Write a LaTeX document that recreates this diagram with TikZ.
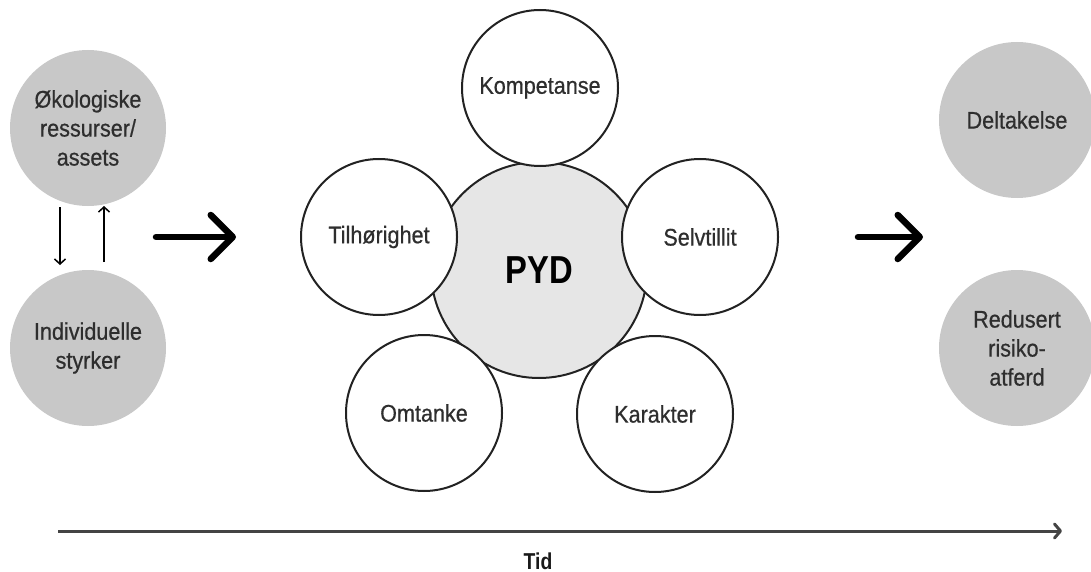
\documentclass[tikz,border=0pt]{standalone}
\usepackage{fontspec}
\setmainfont{Liberation Sans}[FakeStretch=0.9,FakeBold=0.6]
\newfontfamily\narrowbold{Liberation Sans Bold}[FakeStretch=0.84]
\usetikzlibrary{arrows.meta}
\definecolor{greyc}{HTML}{C8C8C8}
\definecolor{pydc}{HTML}{E6E6E6}
\definecolor{txtc}{HTML}{2E2E2E}
\definecolor{linec}{HTML}{222222}
\definecolor{timec}{HTML}{444444}
\begin{document}
\begin{tikzpicture}[x=1pt,y=-1pt,
  lbl/.style={font=\fontsize{24}{29}\selectfont,text=txtc,align=center},
  greycircle/.style={lbl,circle,fill=greyc,minimum size=156pt,inner sep=0pt},
  ring/.style={lbl,circle,draw=linec,line width=2pt,fill=white,minimum size=156pt,inner sep=0pt},
  core/.style={circle,draw=linec,line width=2pt,fill=pydc,minimum size=216pt,inner sep=0pt,
    font=\narrowbold\fontsize{39}{40}\selectfont,text=black},
  bigarrow/.style={line width=6.5pt,line cap=round,-{Straight Barb[length=22pt,width=44pt,round]}},
  thinarrow/.style={line width=1.5pt,-{Straight Barb[length=5pt,width=11pt]}},
  timearrow/.style={line width=3pt,draw=timec,-{Straight Barb[length=6pt,width=14pt,round]}}]
\useasboundingbox (0,0) rectangle (1091,572);

% left
\node[greycircle] (eco) at (88,128) {Økologiske\\ressurser/\\assets};
\node[greycircle] (ind) at (88,348) {Individuelle\\styrker};
\coordinate (d0) at (60,207);
\coordinate (d1) at (60,265);
\coordinate (u0) at (104,262);
\coordinate (u1) at (104,206);
\draw[thinarrow] (d0) -- (d1);
\draw[thinarrow] (u0) -- (u1);

% center
\node[core] (pyd) at (539,270) {PYD};
\node[ring] (komp) at (540,88) {Kompetanse};
\node[ring] (tilh) at (379,237) {Tilhørighet};
\node[ring] (selv) at (700,237) {Selvtillit};
\node[ring] (omt) at (424,413) {Omtanke};
\node[ring] (kar) at (655,414) {Karakter};

% right
\node[greycircle] (delt) at (1017,120) {Deltakelse};
\node[greycircle] (red) at (1017,348) {Redusert\\risiko-\\atferd};

% big arrows
\coordinate (a0) at (156,237);
\coordinate (a1) at (236,237);
\coordinate (b0) at (858,237);
\coordinate (b1) at (923,237);
\draw[bigarrow] (a0) -- (a1);
\draw[bigarrow] (b0) -- (b1);

% timeline
\coordinate (t0) at (58,531);
\coordinate (t1) at (1062,531);
\draw[timearrow] (t0) -- (t1);
\node[font=\narrowbold\fontsize{23}{24}\selectfont,text=black!90] (tid) at (538,561) {Tid};
\end{tikzpicture}
\end{document}
